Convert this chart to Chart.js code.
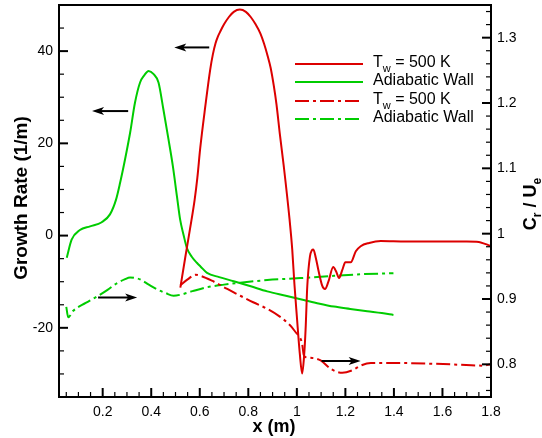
<!DOCTYPE html>
<html><head><meta charset="utf-8">
<script src="https://cdn.jsdelivr.net/npm/chart.js@4/dist/chart.umd.min.js"></script>
<style>html,body{margin:0;padding:0;background:#fff}#wrap{width:542px;height:438px}</style>
</head><body><div id="wrap"><canvas id="c" width="542" height="438"></canvas></div>
<script>
// ---- tick labels ----
const xTicks = [0.2,0.4,0.6,0.8,1,1.2,1.4,1.6,1.8];
const yLeftTicks = [-20,0,20,40];
const yRightTicks = [0.8,0.9,1,1.1,1.2,1.3];

// ---- series: growth rate (left axis) ----
const adiabaticGrowthX = [0.052,0.072,0.106,0.148,0.196,0.23,0.255,0.272,0.292,0.313,0.333,0.354,0.372,0.389,0.41,0.43,0.45,0.471,0.489,0.506,0.519,0.533,0.547,0.567,0.588,0.603,0.63,0.68,0.74,0.81,0.878,0.95,1.015,1.08,1.153,1.22,1.29,1.35,1.398];
const adiabaticGrowthY = [-4.8,-0.9,1.2,2.0,2.9,4.6,7.8,11.5,16.5,22.3,28.8,33.2,34.8,35.7,35.0,33.2,27.4,20.9,15.1,8.5,3.5,0.2,-2.7,-4.6,-5.9,-6.7,-8.1,-9.0,-9.9,-11.0,-12.1,-13.0,-13.8,-14.6,-15.4,-15.9,-16.4,-16.8,-17.2];

const tw500GrowthX = [0.52,0.54,0.56,0.579,0.59,0.602,0.623,0.643,0.654,0.665,0.675,0.685,0.70,0.72,0.74,0.765,0.79,0.81,0.83,0.85,0.865,0.88,0.892,0.905,0.916,0.93,0.946,0.97,0.981,0.99,1.0,1.012,1.022,1.03,1.036,1.043,1.054,1.062,1.068,1.078,1.09,1.104,1.116,1.13,1.15,1.162,1.174,1.187,1.2,1.222,1.243,1.263,1.298,1.346,1.45,1.6,1.7,1.75,1.775,1.8];
const tw500GrowthY = [-11.3,-4.8,1.5,7.8,12.5,19.0,28.1,36.0,39.3,41.7,43.2,44.3,45.8,47.4,48.5,49.0,48.5,47.4,45.8,43.8,41.6,38.9,36.4,32.5,28.5,22.0,15.1,3.5,-3.0,-10.5,-17.5,-25.5,-29.9,-26.0,-20.4,-11.0,-4.5,-3.2,-3.0,-4.8,-7.8,-10.8,-11.6,-10.0,-6.8,-7.8,-9.2,-7.5,-5.8,-5.8,-3.4,-2.3,-1.6,-1.2,-1.3,-1.3,-1.3,-1.4,-1.8,-2.3];

// ---- series: Cr/Ue (right axis) ----
const adiabaticCrX = [0.05,0.058,0.079,0.13,0.182,0.22,0.258,0.29,0.313,0.335,0.354,0.39,0.423,0.46,0.492,0.52,0.57,0.63,0.7,0.767,0.878,1.015,1.153,1.27,1.398];
const adiabaticCrY = [0.888,0.872,0.882,0.894,0.905,0.914,0.924,0.930,0.933,0.932,0.930,0.922,0.915,0.909,0.905,0.9065,0.912,0.918,0.922,0.925,0.929,0.932,0.9355,0.938,0.9395];

const tw500CrX = [0.52,0.55,0.582,0.603,0.65,0.70,0.74,0.767,0.82,0.878,0.93,0.974,1.0,1.008,1.022,1.028,1.036,1.057,1.098,1.14,1.187,1.229,1.263,1.305,1.42,1.553,1.663,1.76,1.8];
const tw500CrY = [0.921,0.930,0.937,0.9355,0.928,0.918,0.910,0.905,0.895,0.885,0.873,0.859,0.847,0.844,0.831,0.815,0.811,0.810,0.806,0.793,0.787,0.791,0.798,0.802,0.802,0.801,0.7995,0.798,0.800];

// ---- annotation arrows: [xFrom, xTo, y, axis] ----
const arrowXFrom = [0.639, 0.305, 0.181, 1.102];
const arrowXTo   = [0.495, 0.156, 0.342, 1.263];
const arrowY     = [40.8, 27.0, 0.9024, 0.805];
const arrowAxis  = ['y','y','y1','y1'];

const RED = '#dc0000', GREEN = '#00cc00';
const DASHDOT = [14,4,3,4];
const FONT = '"Liberation Sans", Arial, Helvetica, sans-serif';

function pts(xs, ys){ return xs.map((v,i)=>({x:v, y:ys[i]})); }

function drawRich(ctx, parts, x, y, align){
  let w = 0;
  parts.forEach(p=>{ ctx.font = p.font; p.w = ctx.measureText(p.t).width; w += p.w; });
  let cx = align==='center' ? x - w/2 : x;
  ctx.textAlign='left'; ctx.textBaseline='alphabetic';
  parts.forEach(p=>{ ctx.font = p.font; ctx.fillText(p.t, cx, y + (p.dy||0)); cx += p.w; });
}

function arrow(ctx, x0, y0, x1, y1){
  const dir = Math.sign(x1-x0);
  ctx.beginPath(); ctx.moveTo(x0,y0); ctx.lineTo(x1 - dir*6, y1); ctx.stroke();
  ctx.beginPath();
  ctx.moveTo(x1, y1);
  ctx.lineTo(x1 - dir*12, y1 - 4);
  ctx.lineTo(x1 - dir*9, y1);
  ctx.lineTo(x1 - dir*12, y1 + 4);
  ctx.closePath(); ctx.fill();
}

const deco = {
  id:'deco',
  afterDraw(chart){
    const {ctx, chartArea:a, scales} = chart;
    const sx = scales.x, sy = scales.y, sr = scales.y1;
    ctx.save();
    ctx.strokeStyle='#000'; ctx.fillStyle='#000';
    const tick=(x1,y1,x2,y2,w)=>{ctx.lineWidth=w;ctx.beginPath();ctx.moveTo(x1,y1);ctx.lineTo(x2,y2);ctx.stroke();};
    for(let i=1;i<36;i++){
      const v=i*0.05, major=(i%4===0);
      const px=sx.getPixelForValue(v);
      tick(px,a.bottom,px,a.bottom-(major?9:5),major?2:1.2);
    }
    for(let i=-6;i<=9;i++){
      const v=i*5, major=(i%4===0);
      const py=sy.getPixelForValue(v);
      tick(a.left,py,a.left+(major?9:5),py,major?2:1.2);
    }
    for(let k=38;k<=67;k++){
      const v=k*0.02, major=(k%5===0);
      const py=sr.getPixelForValue(v);
      tick(a.right,py,a.right-(major?9:5),py,major?2:1.2);
    }
    ctx.lineWidth=2;
    ctx.strokeRect(a.left, a.top, a.right-a.left, a.bottom-a.top);

    ctx.lineWidth=2;
    for(let i=0;i<arrowXFrom.length;i++){
      const ys = arrowAxis[i]==='y' ? sy : sr;
      const py = ys.getPixelForValue(arrowY[i]);
      arrow(ctx, sx.getPixelForValue(arrowXFrom[i]), py, sx.getPixelForValue(arrowXTo[i]), py);
    }

    const legend = [
      {c:RED, d:[], main:'T', sub:'w', rest:' = 500 K', y:64},
      {c:GREEN, d:[], main:'Adiabatic Wall', y:82},
      {c:RED, d:DASHDOT, main:'T', sub:'w', rest:' = 500 K', y:101},
      {c:GREEN, d:DASHDOT, main:'Adiabatic Wall', y:119}
    ];
    legend.forEach(l=>{
      ctx.save();
      ctx.strokeStyle=l.c; ctx.lineWidth=2.2; ctx.setLineDash(l.d);
      ctx.beginPath(); ctx.moveTo(295,l.y); ctx.lineTo(363,l.y); ctx.stroke();
      ctx.restore();
      ctx.fillStyle='#000';
      const parts=[{t:l.main, font:'16px '+FONT}];
      if(l.sub){ parts.push({t:l.sub, font:'11px '+FONT, dy:5}); parts.push({t:l.rest, font:'16px '+FONT}); }
      drawRich(ctx, parts, 373, l.y+3, 'left');
    });

    ctx.fillStyle='#000';
    drawRich(ctx, [{t:'x (m)', font:'bold 18px '+FONT}], 274, 432, 'center');
    ctx.save();
    ctx.translate(27, 198); ctx.rotate(-Math.PI/2);
    drawRich(ctx, [{t:'Growth Rate (1/m)', font:'bold 19px '+FONT}], 0, 0, 'center');
    ctx.restore();
    ctx.save();
    ctx.translate(530, 204); ctx.rotate(-Math.PI/2);
    drawRich(ctx, [
      {t:'C', font:'bold 18px '+FONT},
      {t:'r', font:'bold 12px '+FONT, dy:5},
      {t:' / U', font:'bold 18px '+FONT},
      {t:'e', font:'bold 12px '+FONT, dy:5}
    ], 0, 6, 'center');
    ctx.restore();
    ctx.restore();
  }
};

const fmt = v => String(+(+v).toFixed(3));
const vFit = w => s => { s.width = w; s.paddingTop = 0; s.paddingBottom = 0; };

new Chart(document.getElementById('c'), {
  type:'line',
  data:{ datasets:[
    {label:'Tw = 500 K', data:pts(tw500GrowthX,tw500GrowthY), yAxisID:'y', borderColor:RED, borderWidth:2},
    {label:'Adiabatic Wall', data:pts(adiabaticGrowthX,adiabaticGrowthY), yAxisID:'y', borderColor:GREEN, borderWidth:2},
    {label:'Tw = 500 K (Cr/Ue)', data:pts(tw500CrX,tw500CrY), yAxisID:'y1', borderColor:RED, borderWidth:2, borderDash:DASHDOT},
    {label:'Adiabatic Wall (Cr/Ue)', data:pts(adiabaticCrX,adiabaticCrY), yAxisID:'y1', borderColor:GREEN, borderWidth:2, borderDash:DASHDOT}
  ]},
  options:{
    responsive:false, animation:false, devicePixelRatio:1,
    layout:{padding:{top:5,left:0,right:0,bottom:0}},
    elements:{point:{radius:0}, line:{cubicInterpolationMode:'monotone', fill:false}},
    plugins:{legend:{display:false}, tooltip:{enabled:false}},
    scales:{
      x:{type:'linear', min:0.02, max:1.8,
        grid:{display:false, drawTicks:false}, border:{display:false},
        afterBuildTicks:s=>{s.ticks=xTicks.map(v=>({value:v}));},
        afterFit:s=>{s.height=41; s.paddingLeft=0; s.paddingRight=0;},
        ticks:{padding:7, maxRotation:0, autoSkip:false, color:'#000', font:{family:FONT,size:14}, callback:fmt}},
      y:{type:'linear', position:'left', min:-35, max:50,
        grid:{display:false, drawTicks:false}, border:{display:false},
        afterBuildTicks:s=>{s.ticks=yLeftTicks.map(v=>({value:v}));},
        afterFit:vFit(59),
        ticks:{padding:6, autoSkip:false, color:'#000', font:{family:FONT,size:14}, callback:fmt}},
      y1:{type:'linear', position:'right', min:0.75, max:1.35,
        grid:{display:false, drawTicks:false}, border:{display:false},
        afterBuildTicks:s=>{s.ticks=yRightTicks.map(v=>({value:v}));},
        afterFit:vFit(51),
        ticks:{padding:6, autoSkip:false, color:'#000', font:{family:FONT,size:14}, callback:fmt}}
    }
  },
  plugins:[deco]
});
</script></body></html>
